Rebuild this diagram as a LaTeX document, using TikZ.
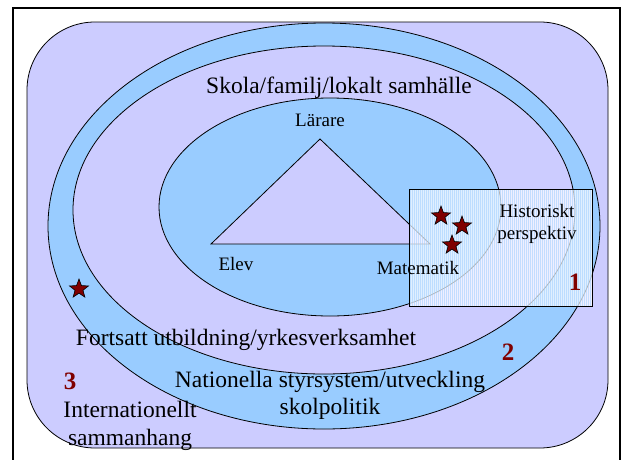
\documentclass[tikz,border=0pt]{standalone}
\usepackage{fontspec}
\setmainfont{Liberation Serif}
\usetikzlibrary{shapes.geometric}
\definecolor{lav}{HTML}{CCCCFF}
\definecolor{sky}{HTML}{99CCFF}
\definecolor{dred}{HTML}{800000}
\tikzset{
  bigtxt/.style={font=\fontsize{23.5}{26}\selectfont, inner sep=0pt},
  smalltxt/.style={font=\fontsize{19}{21}\selectfont, inner sep=0pt},
  numtxt/.style={font=\fontsize{25}{26}\selectfont\bfseries, text=dred, inner sep=0pt},
  redstar/.style={star, star points=5, star point ratio=2.4, minimum size=20pt, inner sep=0pt, fill=dred, draw=black, line width=0.6pt},
  outline/.style={draw=black, line width=0.8pt}
}
\begin{document}
\begin{tikzpicture}[x=1pt,y=-1pt]
\useasboundingbox (0,0) rectangle (622,459);
\fill[white] (0,0) rectangle (622,459);
% outer frame
\draw[line width=2.5pt] (13,8) rectangle (620,470);
% rounded background
\draw[outline, fill=lav, rounded corners=68pt] (27,22) rectangle (608,448);
% rings
\coordinate (cout) at (324,226);
\coordinate (cin) at (324,210);
\coordinate (cmid) at (330,207);
\draw[outline, fill=sky] (cout) ellipse [x radius=276, y radius=203];
\draw[outline, fill=lav] (cin) ellipse [x radius=251, y radius=164];
\draw[outline, fill=sky] (cmid) ellipse [x radius=171, y radius=109];
% triangle
\coordinate (tl) at (320,139);
\coordinate (el) at (211,244);
\coordinate (ma) at (430,244);
\draw[outline, fill=lav, line join=miter] (tl) -- (el) -- (ma) -- cycle;
% box
\coordinate (bxa) at (409,189);
\coordinate (bxb) at (592,306);
\fill[white, opacity=0.7] (bxa) rectangle (bxb);
\begin{scope}
\clip (bxa) rectangle (bxb);
\draw[sky, opacity=0.5, line width=0.3pt, step=2] (400,180) grid (600,320);
\end{scope}
\draw[line width=0.8pt] (bxa) rectangle (bxb);
% stars
\node[redstar] (s1) at (441,216) {};
\node[redstar] (s2) at (462,226) {};
\node[redstar] (s3) at (452,245) {};
\node[redstar] (s4) at (79,289) {};
% texts
\node[bigtxt] (skola) at (339,88) {Skola/familj/lokalt samhälle};
\node[smalltxt] (larare) at (320,120) {Lärare};
\node[smalltxt] (elev) at (236,264) {Elev};
\node[smalltxt] (matem) at (418,268) {Matematik};
\node[smalltxt, align=center] (hist) at (537,224) {Historiskt\\[1pt]perspektiv};
\node[numtxt] (n1) at (575,282) {1};
\node[numtxt] (n2) at (508,352) {2};
\node[numtxt] (n3) at (70,381) {3};
\node[bigtxt] (fort) at (246,340) {Fortsatt utbildning/yrkesverksamhet};
\node[bigtxt, align=center] (nat) at (330,395) {Nationella styrsystem/utveckling\\[1pt]skolpolitik};
\node[bigtxt, align=center] (intl) at (130,426) {Internationellt\\[2pt]sammanhang};
\end{tikzpicture}
\end{document}
